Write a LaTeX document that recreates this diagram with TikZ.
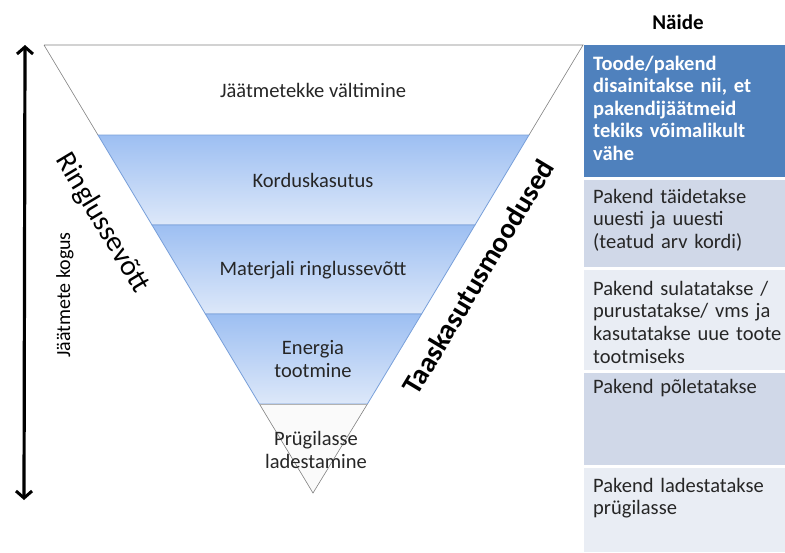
\documentclass[tikz,border=0pt]{standalone}
\usepackage{fontspec}
\setmainfont{Carlito}
\usetikzlibrary{arrows.meta}
\definecolor{bandtop}{HTML}{9DBFF2}
\definecolor{bandbot}{HTML}{DDE8F9}
\definecolor{bandline}{HTML}{79A0DA}
\definecolor{darkbox}{HTML}{4F81BD}
\definecolor{midbox}{HTML}{D0D8E8}
\definecolor{lightbox}{HTML}{E9EDF4}
\tikzset{
  bandlabel/.style={font=\fontsize{20.5}{23}\selectfont, align=center, text=black!85, inner sep=0pt},
  boxtext/.style={font=\fontsize{20.5}{22.7}\selectfont, align=left, anchor=base west, text width=192pt, inner sep=0pt, text=black!85},
  band/.style={draw=bandline, line width=0.8pt, top color=bandtop, bottom color=bandbot},
  outline/.style={draw=gray, line width=0.6pt},
  dblarrow/.style={line width=3.2pt, {Straight Barb[length=7pt,width=16pt,line width=3pt]}-{Straight Barb[length=7pt,width=16pt,line width=3pt]}}
}
\begin{document}
\begin{tikzpicture}[x=1pt,y=-1pt]
\useasboundingbox (0,0) rectangle (785,552);
% triangle bands; x = 44+0.6*(y-45)
\fill[white] (44,45) -- (583,45) -- (313,493) -- cycle;
\draw[outline] (44,45) -- (583,45) -- (529,135) (98,135) -- (44,45);
\shade[band] (98,135) -- (529,135) -- (475,225) -- (152,225) -- cycle;
\shade[band] (152,225) -- (475,225) -- (421.6,314) -- (205.4,314) -- cycle;
\shade[band] (205.4,314) -- (421.6,314) -- (367.4,404) -- (259.4,404) -- cycle;
\fill[black!2] (259.4,404) -- (367.4,404) -- (313,493) -- cycle;
\draw[outline] (259.4,404) -- (313,493) -- (367.4,404);
\draw[gray!60, line width=0.4pt] (259.4,404) -- (367.4,404);
% band labels
\node[bandlabel] (l1) at (313,90) {Jäätmetekke vältimine};
\node[bandlabel] (l2) at (313,180) {Korduskasutus};
\node[bandlabel] (l3) at (313,270) {Materjali ringlussevõtt};
\node[bandlabel] (l4) at (313,359) {Energia\\tootmine};
\node[bandlabel] (l5) at (316,450) {Prügilasse\\ladestamine};
% side labels
\node[font=\fontsize{29}{32}\selectfont, rotate=-59, inner sep=0pt] (ring) at (102,223) {Ringlussevõtt};
\node[font=\bfseries\fontsize{28.5}{32}\selectfont, rotate=59, inner sep=0pt] (taas) at (478,277) {Taaskasutusmoodused};
% arrow
\coordinate (atop) at (25,45);
\coordinate (abot) at (24,500);
\draw[dblarrow] (atop) -- (abot);
\node[font=\fontsize{20}{22}\selectfont, rotate=90, inner sep=0pt] (kogus) at (65,295) {Jäätmete kogus};
% example column
\node[font=\bfseries\fontsize{21}{24}\selectfont, inner sep=0pt] (naide) at (678,22) {Näide};
\fill[darkbox] (584,45) rectangle (785,177);
\fill[midbox] (584,180) rectangle (785,267);
\fill[lightbox] (584,270) rectangle (785,370);
\fill[midbox] (584,373) rectangle (785,465);
\fill[lightbox] (584,468) rectangle (785,552);
\node[boxtext, text=white, font=\bfseries\fontsize{20.5}{22.5}\selectfont] (b1) at (593,70) {Toode/pakend\\disainitakse nii, et\\pakendijäätmeid\\tekiks võimalikult\\vähe};
\node[boxtext] (b2) at (593,203) {Pakend täidetakse\\uuesti ja uuesti\\(teatud arv kordi)};
\node[boxtext] (b3) at (593,295) {Pakend sulatatakse /\\purustatakse/ vms ja\\kasutatakse uue toote\\tootmiseks};
\node[boxtext] (b4) at (593,393) {Pakend põletatakse};
\node[boxtext] (b5) at (593,492) {Pakend ladestatakse\\prügilasse};
\end{tikzpicture}
\end{document}
